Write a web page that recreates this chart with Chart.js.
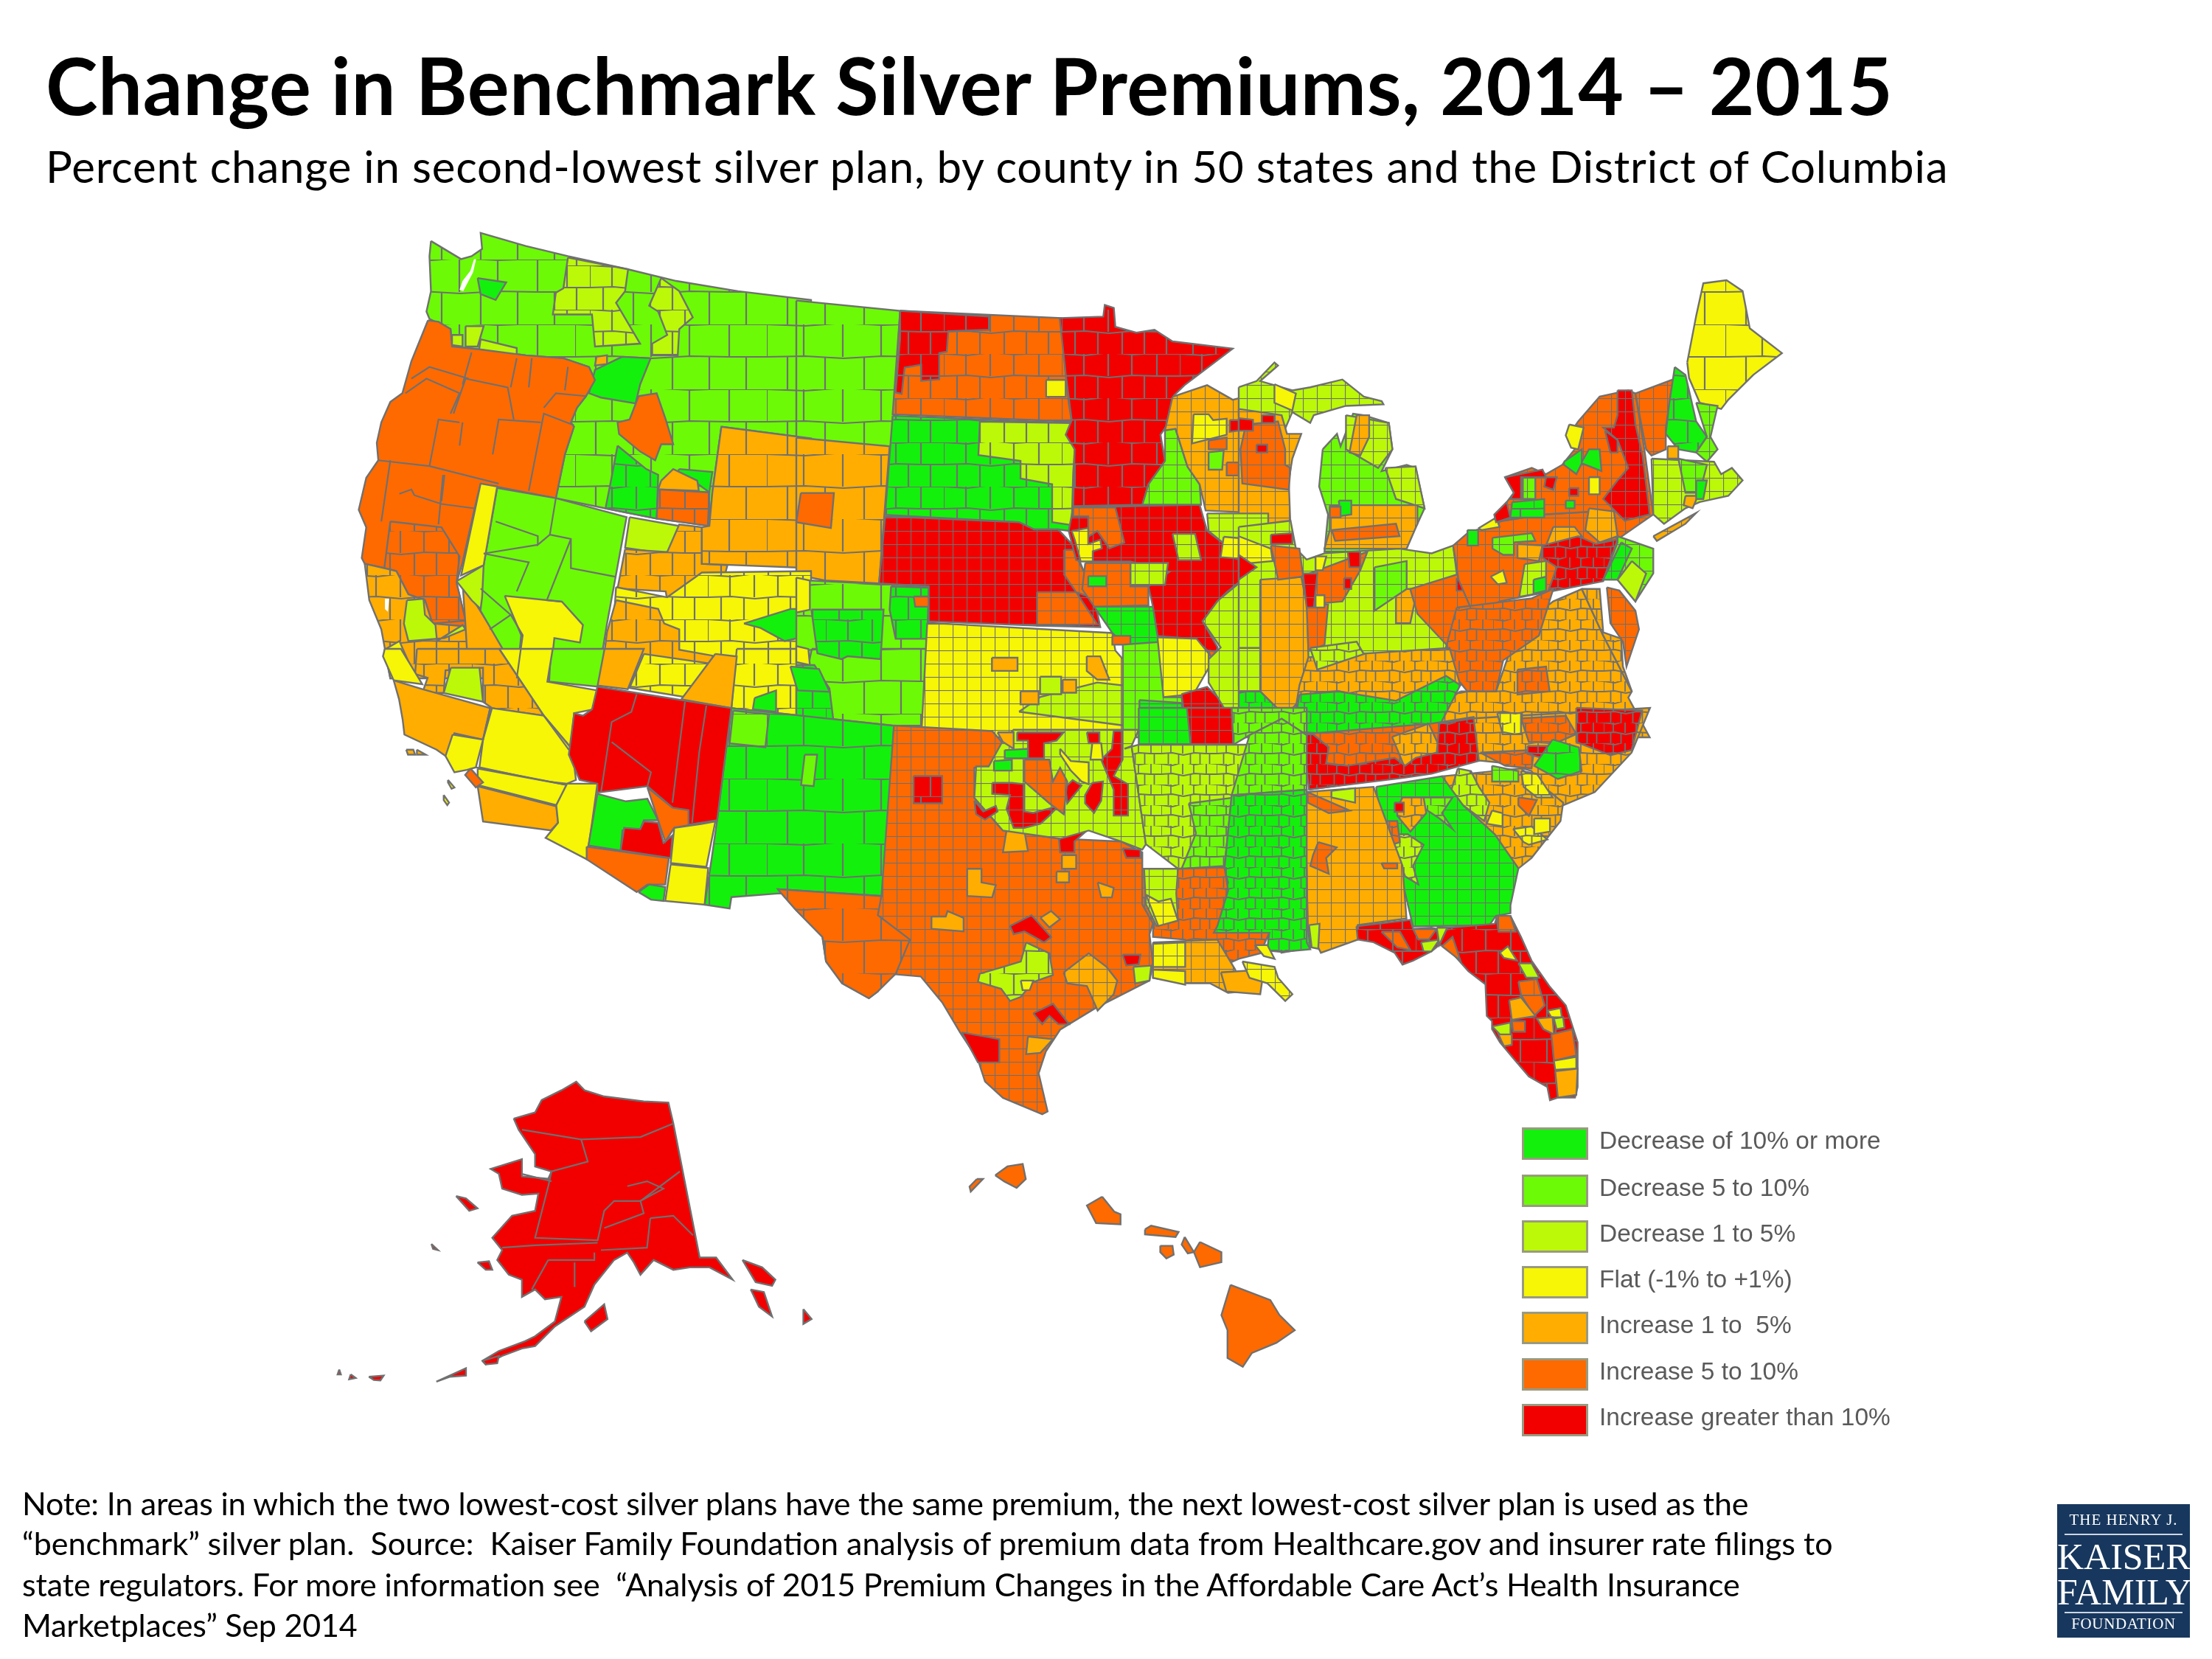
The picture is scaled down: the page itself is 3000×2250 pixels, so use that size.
<!DOCTYPE html>
<html><head><meta charset="utf-8">
<script src="https://cdn.jsdelivr.net/npm/chart.js@4"></script>
<style>
html,body{margin:0;padding:0;background:#fff;width:3000px;height:2250px;overflow:hidden}
#wrap{position:relative;width:3000px;height:2250px}
canvas{position:absolute;left:0;top:0;filter:blur(.7px)}
.t{position:absolute;white-space:pre;color:#000;font-family:Lato,sans-serif}
#title{left:62px;top:51px;font-size:106.5px;font-weight:700;letter-spacing:.6px}
#sub{left:62px;top:189px;font-size:60px;letter-spacing:.78px}
.note{left:30px;font-size:43px;letter-spacing:-.2px}
.lg{position:absolute;left:2064px;width:90px;height:44px;box-sizing:border-box;border:3px solid #9a9a80}
.lt{position:absolute;left:2169px;font-family:"Liberation Sans",sans-serif;font-size:33.5px;color:#5a5a5a;white-space:pre}
#logo{position:absolute;left:2790px;top:2040px;width:180px;height:181px;background:#17375e;color:#fff;font-family:"Liberation Serif",serif;text-align:center}
#logo div{position:absolute;left:0;right:0;white-space:pre}
</style></head><body><div id="wrap"><canvas id="c" width="3000" height="2250"></canvas>
<div id="title" class="t">Change in Benchmark Silver Premiums, 2014 – 2015</div>
<div id="sub" class="t">Percent change in second-lowest silver plan, by county in 50 states and the District of Columbia</div>
<div class="t note" style="top:2013px">Note: In areas in which the two lowest-cost silver plans have the same premium, the next lowest-cost silver plan is used as the</div>
<div class="t note" style="top:2067px;letter-spacing:0">“benchmark” silver plan.  Source:  Kaiser Family Foundation analysis of premium data from Healthcare.gov and insurer rate filings to</div>
<div class="t note" style="top:2123px;letter-spacing:-.13px">state regulators. For more information see  “Analysis of 2015 Premium Changes in the Affordable Care Act’s Health Insurance</div>
<div class="t note" style="top:2178px">Marketplaces” Sep 2014</div>
<div id="logo">
<div style="top:9px;font-size:21px;letter-spacing:1px">THE HENRY J.</div>
<div style="top:40px;height:2px;left:10px;right:10px;background:#cdd6e2"></div>
<div style="top:44px;font-size:50px;line-height:54px">KAISER</div>
<div style="top:92px;font-size:50px;line-height:54px">FAMILY</div>
<div style="top:146px;height:2px;left:10px;right:10px;background:#cdd6e2"></div>
<div style="top:150px;font-size:21px;letter-spacing:.6px">FOUNDATION</div>
</div>
</div>
<script>
const legendLabels=["Decrease of 10% or more","Decrease 5 to 10%","Decrease 1 to 5%","Flat (-1% to +1%)","Increase 1 to  5%","Increase 5 to 10%","Increase greater than 10%"];
const legendKeys=["G10","G5","G1","Y","I1","I5","R"];
const legendColors=["#13f00c","#6cfa06","#bbf908","#f6f606","#ffad00","#ff6a00","#f20000"];
const legendRowsY=[1551,1615,1677,1739,1801,1864,1926];

// Map outlines, in sheets of map units: [sheet, change class, county grain, outline]
const west=[
["A","G5","L",[305,68,300,120,305,240,290,310,300,335,370,370,375,430,470,440,620,460,745,470,830,500,850,545,820,600,790,640,770,690,780,705,750,800,720,950,885,985,1055,1020,1230,1045,1240,930,1270,705,1568,745,1568,270,1325,240,1120,205,960,165,760,120,620,85,470,40,475,95,440,120,405,130]],
["A","W","",[400,235,412,240,430,205,445,175,455,130,448,130,436,170,410,205]],
["B","G5","L",[0,70,345,105,325,460,315,570,230,565,0,540]],
["A","G1","M",[760,125,960,165,950,240,920,280,1000,420,850,430,840,320,710,320,720,245,745,230]],
["A","G1","M",[1070,195,1130,240,1175,330,1130,370,1125,460,1040,460,1040,420,1090,390,1060,310,1030,290]],
["A","G1","",[420,360,480,360,460,430,420,430]],
["A","G1","",[375,390,410,390,410,430,375,425]],
["A","G1","",[470,405,590,435,590,460,465,440]],
["A","I1","",[855,465,890,460,890,490,850,495]],
["A","G10","",[460,195,555,210,520,270,470,250]],
["A","G10","",[940,465,1035,470,1000,560,985,625,870,605,830,590,850,510]],
["A","I5","",[995,600,1055,590,1085,680,1110,765,1070,765,1050,820,1000,790,930,730,925,690,965,680]],
["A","G10","M",[925,770,1020,850,1060,870,1055,1020,885,985,905,880]],
["A","G10","",[1130,850,1240,860,1230,930,1190,900,1120,870]],
["A","I1","",[1070,890,1110,850,1190,890,1195,925,1060,920]],
["A","I5","M",[1060,920,1230,930,1225,1045,1055,1020]],
["A","I5","",[295,340,330,345,370,370,375,430,470,440,620,460,745,470,830,500,850,545,820,600,790,640,770,690,780,705,750,800,720,950,470,900,450,985,410,1170,390,1240,420,1370,420,1390,310,1380,285,1300,230,1280,190,1200,150,1190,85,1175,75,1155,90,1050,65,990,90,880,130,820,125,760,140,690,170,620,210,590,240,480]],
["A","I5","M",[170,1030,340,1050,400,1150,390,1240,420,1370,310,1380,285,1300,230,1280,190,1200,150,1190]],
["A","I1","M",[85,1175,150,1190,190,1200,230,1280,285,1300,310,1380,420,1390,440,1568,170,1568,140,1400,100,1300]],
["A","W","",[152,1295,166,1295,162,1340,152,1330]],
["A","G1","",[225,1300,280,1295,285,1350,320,1385,325,1440,410,1385,420,1400,350,1430,230,1440,215,1380]],
["A","Y","",[150,1470,200,1440,255,1568,170,1568]],
["A","I1","",[410,1240,610,1568,430,1568,420,1390]],
["A","G5","",[525,915,720,950,955,1015,890,1380,860,1568,700,1568,600,1568,410,1230,480,1180]],
["A","Y","",[470,900,525,910,480,1180,405,1215]],
["A","G1","",[390,1235,480,1180,475,1290,470,1330,440,1300]],
["A","Y","",[550,1285,740,1305,810,1385,800,1445,715,1430,700,1568,590,1568,605,1420]],
["A","G1","",[965,1015,1130,1045,1135,1105,1080,1140,950,1120]],
["A","I1","M",[950,1125,1090,1135,1130,1040,1205,1050,1205,1175,1290,1180,1260,1300,1190,1300,1090,1300,1085,1270,925,1260]],
["A","I1","L",[1270,705,1568,745,1568,1190,1205,1175,1205,1050,1230,1045,1240,930]],
["B","I1","L",[0,540,310,570,275,1040,95,1030,0,1010]],
["B","I5","",[15,730,125,730,115,850,0,830]],
["A","Y","M",[920,1255,1090,1290,1205,1205,1568,1200,1568,1568,900,1568]],
["A","G10","",[1345,1380,1500,1330,1568,1330,1568,1420,1480,1440,1400,1395]],
["B","Y","",[0,1020,45,1030,105,1095,60,1100,40,1140,0,1140]],
["A","I1","M",[920,1300,1060,1330,1080,1380,1130,1400,1130,1470,1240,1490,1250,1568,870,1568,890,1410]],
["D","Y","M",[1030,0,1240,0,1200,270,1015,235]],
["D","I1","",[650,0,770,0,725,160,640,145]],
["D","Y","M",[770,20,965,60,880,190,730,155]],
["D","I1","",[970,20,1030,30,1015,235,875,200]],
["D","G5","",[510,0,660,0,640,150,505,130]],
["D","Y","",[365,0,515,0,500,130,640,165,630,240,575,255,565,390,490,265]],
["D","I1","M",[135,0,365,0,490,265,345,235,320,210,320,75,215,85,210,175,150,175,165,115,130,100]],
["D","G1","",[230,75,310,75,320,210,210,175]],
["D","Y","",[45,0,90,0,150,140,70,125,40,30]],
["D","I1","",[70,125,150,160,340,235,320,360,240,335,235,420,215,425,190,400,100,340,95,280,85,200]],
["D","Y","",[345,235,490,265,570,400,580,520,555,535,490,525,310,470,320,360]],
["D","Y","",[305,475,555,540,525,620,305,540]],
["D","Y","",[235,340,320,360,300,470,275,480,240,490,215,425]],
["D","I5","",[285,475,320,530,300,550,270,500]],
["D","I1","",[305,545,525,625,530,690,510,720,320,685]],
["D","Y","",[555,535,640,535,625,690,610,835,495,750,530,690,525,620]],
["D","I1","",[105,400,125,400,130,420,110,420]],
["D","I1","",[135,400,160,420,135,420]],
["D","Y","",[222,520,240,550,232,555,222,530]],
["D","Y","",[210,580,225,610,220,620,210,600]],
["B","G5","L",[45,1030,440,1050,420,1568,0,1568,0,1140,45,1130]],
["D","G5","L",[1240,0,1568,0,1568,305,1470,305,1015,235,1200,270]],
["B","G10","M",[315,1050,440,1055,435,1230,330,1230,310,1130]],
["B","G10","M",[50,1130,290,1130,280,1300,170,1290,150,1300,70,1280]],
["B","G10","M",[0,1320,60,1320,110,1400,130,1568,0,1568]],
["B","I5","",[390,1085,440,1085,440,1120,395,1120]],
["B","Y","",[0,1255,40,1265,45,1320,0,1310]],
["D","G10","",[1180,70,1260,80,1290,170,1200,165]],
["D","G10","",[1080,195,1140,165,1140,250,1075,240]],
["D","G10","L",[1015,235,1470,305,1440,995,1150,970,1015,985,1010,1030,940,1015,960,830,975,680,1000,400]],
["D","G5","L",[1020,245,1120,260,1110,390,1010,375]],
["D","G5","",[1220,420,1255,420,1245,545,1210,540]],
["D","R","",[640,150,1015,235,1000,400,975,680,905,695,855,710,850,630,780,545,640,570,640,535,590,520,560,420,575,255,600,265,625,240]],
["D","G10","",[640,575,720,605,780,595,810,680,770,680,760,715,710,720,705,800,615,780]],
["D","R","",[770,685,810,690,825,770,850,740,845,830,705,800,715,710,760,715]],
["D","I5","",[780,550,850,630,895,640,895,700,855,710,830,765,810,680]],
["D","Y","",[855,710,930,695,970,685,945,865,845,850]],
["D","Y","",[845,855,950,870,940,1015,830,1000]],
["D","I5","",[610,785,840,830,830,935,780,935,750,965,610,835]],
["D","G10","",[755,965,785,935,830,945,825,1000,790,995]]
];
const countyLines=[
["A",[130,820,300,840,530,900]],["A",[510,800,530,680,670,690]],["A",[630,925,680,660,780,700]],["A",[300,840,330,680,400,690]],["A",[400,770,410,690]],["A",[380,660,420,540,560,570,580,680]],["A",[220,590,290,540,400,590,370,660]],["A",[680,640,720,590,820,600]],["A",[570,570,590,470]],["A",[240,540,300,500,430,540]],["A",[410,560,440,450]],["A",[630,570,640,470]],["A",[750,580,760,500]],["A",[350,870,340,960]],["A",[170,820,140,1030]],["A",[345,870,330,1040]],["A",[200,935,240,920,250,940,340,970,450,985]],
["A",[720,950,700,1075,770,1090,770,1190,920,1220]],["A",[520,1030,660,1080,660,1110,700,1075]],["A",[480,1140,630,1170,590,1270]],["A",[770,1090,690,1300,740,1305]],["A",[480,1140,660,1110]],["A",[470,1260,570,1350,500,1400]],["A",[570,1350,610,1420,590,1568]],
["D",[750,180,735,250,680,290,650,570]],["D",[885,210,850,610]],["D",[945,225,925,410,905,690]],["D",[680,370,790,490,780,545]],["D",[340,235,320,360]],["D",[490,265,560,400]],["D",[300,470,555,540]],
["G",[600,240,780,280,960,270,1060,215]],["G",[780,280,800,370,690,410,680,470,640,680,830,690,850,570,880,530,960,530,1080,410]],["G",[960,530,970,580,850,640]],["G",[990,600,980,720,840,730]],["G",[990,600,1060,590,1120,670]],["G",[540,720,640,710,830,700]],["G",[680,770,820,770,820,740]],["G",[760,780,760,880]],["G",[680,770,630,890]],["G",[600,420,690,450]],["G",[920,470,980,450,1030,480,960,530]]
];
const plains=[
["B","I5","M",[345,105,880,130,895,320,905,420,915,485,320,460]],
["B","R","M",[345,105,640,125,640,170,505,175,500,245,475,250,475,340,415,345,415,290,360,300,350,390,330,385,345,200]],
["B","Y","",[830,342,895,342,895,400,830,400]],
["B","G10","M",[320,465,915,490,905,530,925,580,920,660,920,840,905,860,870,855,790,855,740,830,295,805]],
["B","G1","M",[610,485,915,490,905,530,925,580,920,660,915,840,850,830,850,700,745,680,745,620,605,600]],
["B","R","S",[295,810,740,830,790,855,870,855,920,910,960,1010,990,1090,1010,1190,800,1185,440,1170,440,1050,275,1040]],
["B","I5","S",[800,1070,930,1070,1000,1180,800,1185]],
["B","I5","S",[890,925,920,925,960,1010,985,1090,930,1070,890,1010]],
["B","Y","S",[435,1175,1050,1210,1060,1270,1085,1300,1085,1568,415,1568]],
["B","G1","S",[740,1480,1085,1527,1085,1390,1000,1380,810,1430]],
["B","I1","",[650,1295,735,1295,735,1340,650,1340]],
["B","I1","",[745,1410,805,1410,805,1455,745,1455]],
["B","I1","",[885,1370,930,1370,930,1415,885,1415]],
["B","I1","",[965,1290,1010,1290,1040,1370,1000,1370,965,1340]],
["B","G1","",[810,1360,880,1360,880,1420,810,1420]],
["B","R","M",[875,130,1020,125,1025,85,1055,95,1060,160,1130,180,1190,170,1250,210,1450,235,1290,360,1255,395,1250,470,1210,530,1225,620,1170,700,1150,770,920,775,925,580,895,530,915,480,895,320]],
["B","R","S",[920,780,1340,770,1365,860,1440,920,1535,985,1490,1020,1430,1070,1400,1100,1350,1170,1400,1260,1390,1290,1320,1230,1200,1220,1185,1120,1170,1050,1240,1000,1110,965,990,965,930,960,905,860]],
["B","I5","S",[920,780,1060,780,1090,900,1040,920,1000,860,970,880,970,810,920,810]],
["B","Y","S",[915,860,970,850,970,905,1010,890,1015,920,985,930,985,965,945,965,925,890]],
["B","G1","S",[1250,870,1325,870,1345,960,1270,960]],
["B","G1","S",[1110,970,1235,970,1225,1045,1110,1045]],
["B","I5","S",[960,970,1110,970,1110,1050,1170,1050,1170,1115,990,1120,950,1060]],
["B","G10","",[970,1015,1030,1015,1030,1050,970,1050]],
["B","G10","S",[990,1120,1185,1120,1200,1220,1220,1250,1120,1280,1050,1210]],
["B","I5","",[1050,1220,1110,1220,1110,1250,1050,1250]],
["B","G5","S",[1085,1250,1220,1240,1220,1430,1280,1430,1300,1568,1085,1568]],
["B","G10","S",[1140,1440,1280,1450,1300,1568,1140,1568]],
["B","Y","S",[1200,1225,1330,1230,1370,1280,1370,1330,1320,1420,1220,1430]],
["B","R","S",[1280,1420,1365,1395,1440,1470,1440,1568,1300,1568]],
["B","I1","S",[1370,1300,1470,1310,1490,1420,1420,1450,1370,1380]],
["B","I5","",[1370,1270,1420,1280,1420,1310,1380,1305]],
["B","G5","S",[1225,515,1260,510,1300,640,1340,700,1345,770,1150,770,1170,700,1225,620]]
];
const midwest=[
["B","I1","S",[1250,400,1365,360,1450,410,1568,380,1568,800,1360,790,1340,700,1300,640,1260,510,1225,515]],
["B","Y","S",[1320,460,1370,460,1385,480,1430,475,1430,530,1315,560]],
["B","G5","",[1370,590,1420,585,1415,650,1370,650]],
["B","R","",[1440,480,1510,480,1510,510,1440,520]],
["B","I5","",[1430,625,1470,625,1470,670,1430,670]],
["B","I5","",[1370,550,1430,540,1430,580,1370,580]],
["C","G1","S",[0,440,50,420,100,360,110,370,60,420,150,450,200,440,290,415,350,470,400,485,405,495,300,500,210,530,200,555,150,520,120,600,90,530,0,530]],
["C","Y","",[100,430,160,460,150,515,100,490]],
["C","I1","S",[0,510,120,530,135,590,175,590,150,670,140,740,145,900,0,900]],
["C","I5","S",[20,560,110,550,130,640,130,690,145,700,140,770,10,750,5,640]],
["C","R","",[0,540,40,545,40,580,0,580]],
["C","R","",[65,530,100,530,100,555,65,555]],
["C","R","",[50,625,80,625,80,650,50,650]],
["C","G5","S",[235,640,275,590,285,630,320,525,350,530,420,555,430,640,400,710,470,690,495,700,520,830,500,880,450,970,240,970,250,850,225,760]],
["C","G1","S",[300,530,420,555,430,640,390,700,300,640]],
["C","I1","S",[330,530,365,530,365,600,340,660,310,650]],
["C","G1","S",[410,700,495,695,520,830,440,800]],
["C","I1","S",[255,820,500,820,500,880,470,960,240,960,255,900]],
["C","G10","",[280,805,315,805,315,850,285,855]],
["C","I5","",[255,825,285,825,285,860,255,860]],
["C","I5","S",[260,900,440,880,450,920,270,935]],
["B","G1","S",[1365,800,1568,800,1568,1568,1440,1500,1370,1380,1370,1300,1410,1260,1350,1170,1400,1100,1535,985,1450,950,1440,920,1370,860]],
["B","Y","S",[1420,880,1530,890,1535,960,1410,950]],
["C","G1","S",[0,890,145,870,160,960,190,995,240,975,450,960,540,975,600,950,620,1130,590,1280,500,1310,200,1400,0,1400]],
["C","G1","S",[0,1280,70,1280,70,1420,0,1420]],
["C","I1","S",[60,1060,190,1050,195,1310,170,1450,130,1500,60,1420]],
["C","G10","X",[0,1420,60,1420,130,1500,150,1540,130,1568,0,1568]],
["C","I5","S",[90,950,170,960,180,1050,110,1060]],
["C","R","",[90,915,150,910,150,945,90,945]],
["C","Y","S",[0,920,90,960,95,1000,0,1010]],
["C","R","",[0,980,50,1020,0,1060]],
["C","I5","S",[175,1050,360,970,340,1030,290,1130,190,1140]],
["C","I5","S",[190,1140,250,1140,240,1270,195,1290]],
["C","R","S",[180,1040,220,1040,210,1150,190,1150]],
["C","R","",[305,970,340,970,340,1020,310,1020]],
["C","R","",[295,1055,315,1055,315,1090,295,1090]],
["C","Y","",[215,1110,240,1110,240,1150,215,1150]],
["C","Y","",[215,985,245,985,235,1030,215,1030]],
["C","I1","S",[440,1090,500,1090,480,1200,440,1200]],
["C","G5","S",[380,1020,470,1000,470,1090,380,1160]],
["C","I5","S",[480,1090,620,1040,660,1180,640,1200,590,1280,500,1170]],
["C","R","",[610,1055,635,1055,635,1095,610,1095]],
["C","R","",[640,1035,660,1035,660,1065,640,1065]]
];
const northeast=[
["C","I5","S",[640,910,740,870,850,850,1000,840,1060,900,1060,940,1020,1060,860,1100,730,1130,660,1180,615,1060,600,950]],
["C","G10","",[640,900,670,900,670,950,640,950]],
["C","Y","",[670,895,720,860,730,890,680,900]],
["C","G5","S",[710,925,820,910,830,935,770,940,770,980,740,980,710,960]],
["C","I1","S",[780,945,850,950,840,1000,780,990]],
["C","I1","S",[880,890,940,890,960,920,860,950]],
["C","R","X",[850,950,950,920,1000,945,1060,930,1030,1030,1020,1065,865,1100,890,1020,850,990]],
["C","G1","S",[800,1010,860,1000,860,1100,785,1115]],
["C","G10","",[825,1060,860,1050,860,1095,825,1105]],
["C","Y","",[705,1050,740,1030,750,1070,725,1075]],
["C","I5","S",[715,865,750,810,770,780,745,730,820,700,860,720,905,690,940,640,920,600,950,550,1010,470,1090,450,1110,460,1135,640,1160,850,1060,930,1000,840,850,850,740,870]],
["C","I1","S",[980,830,1050,840,1060,920,1010,940,970,900]],
["C","R","",[745,730,850,705,860,730,790,730,790,800,760,800,770,780]],
["C","R","",[750,810,760,860,720,875,715,850]],
["C","R","",[860,730,890,730,880,770,855,760]],
["C","G5","S",[795,730,830,730,830,800,795,800]],
["C","G10","M",[765,810,855,800,855,860,760,860]],
["C","R","",[925,765,950,765,950,790,925,790]],
["C","G10","",[915,805,940,805,940,830,915,830]],
["C","R","S",[1060,450,1100,450,1110,560,1130,660,1150,850,1080,870,1020,800,1060,740,1090,700,1060,610,1020,570,1050,570,1060,530]],
["C","R","",[1025,580,1060,610,1060,650,1040,650]],
["C","Y","",[980,730,1010,730,1010,785,980,785]],
["C","Y","",[925,560,965,570,950,640,930,635,915,595]],
["C","G10","",[910,680,960,640,960,680,980,640,1010,640,1015,710,960,685,945,720,910,690]],
["C","I5","S",[1110,460,1215,415,1195,570,1195,640,1155,660,1140,640]],
["C","G10","M",[1220,375,1250,400,1280,550,1310,600,1280,650,1230,640,1195,590,1205,490]],
["C","Y","L",[1255,360,1280,210,1300,105,1365,95,1410,130,1430,250,1520,330,1440,400,1370,480,1350,510,1290,490,1260,410]],
["C","G5","S",[1280,490,1340,500,1320,600,1340,640,1310,680,1280,650,1310,600]],
["C","G1","S",[1155,670,1330,680,1350,720,1380,700,1410,740,1370,790,1290,810,1250,830,1190,880,1160,850]],
["C","G5","S",[1230,670,1310,690,1290,780,1250,780]],
["C","I1","",[1250,790,1285,790,1270,830,1245,820]],
["C","G10","",[1280,740,1310,740,1300,800,1280,800]],
["C","I1","",[1200,630,1230,630,1230,670,1200,670]],
["C","I1","S",[1160,920,1280,845,1250,880,1170,935]],
["C","G5","S",[1060,920,1160,960,1160,1040,1110,1130,1060,1060,1020,1060,1060,940]],
["C","G10","S",[1070,940,1100,960,1060,1060,1020,1060]],
["C","G1","",[1100,1000,1140,1040,1110,1130,1060,1060]],
["C","I5","S",[1030,1085,1065,1095,1110,1160,1120,1220,1085,1340,1075,1260,1040,1200]]
];
const south=[
["C","I1","X",[620,1420,720,1420,780,1220,880,1130,960,1090,1020,1240,1100,1420,1090,1440,1150,1568,580,1568,520,1500]],
["C","I1","X",[960,1090,1010,1090,1020,1230,1070,1250,1075,1340,1100,1420,1020,1240]],
["C","I5","X",[610,1150,820,1120,880,1090,840,1240,740,1320,720,1420,640,1420,570,1320]],
["C","I5","X",[780,1350,860,1340,870,1420,780,1430]],
["C","I1","X",[195,1310,590,1280,620,1400,520,1500,150,1540,170,1400]],
["C","G10","X",[170,1430,280,1420,440,1450,580,1370,620,1400,560,1535,150,1568]],
["C","G1","X",[200,1280,330,1260,350,1300,220,1350]],
["F","I5","X",[130,100,620,60,780,35,800,190,520,260,160,310]],
["F","I1","X",[470,110,610,60,660,170,560,230,520,230]],
["F","R","X",[130,100,170,100,230,150,220,210,300,220,480,190,520,220,560,190,640,170,650,60,780,40,805,200,620,250,520,265,155,310]],
["F","I1","X",[780,40,1450,0,1380,170,1240,320,1120,370,1060,340,1000,240,900,210,800,200]],
["F","I5","X",[960,40,1130,30,1170,100,1100,130,990,130]],
["F","Y","X",[870,20,960,20,960,100,890,100]],
["F","I5","X",[805,170,1010,160,1000,230,900,220]],
["F","R","X",[1170,0,1420,10,1380,160,1300,180,1170,130]],
["F","R","X",[985,145,1060,145,1040,190,985,175]],
["F","G10","M",[1080,120,1180,150,1190,240,1100,270,1010,220]],
["F","I1","X",[660,260,960,230,1120,360,1110,430,1000,570,950,610,860,480,740,370,680,310]],
["F","Y","X",[960,240,1020,250,1080,340,1020,340,970,300]],
["F","G1","X",[720,230,770,240,800,300,840,360,820,430,740,370,690,330]],
["F","G5","S",[850,220,950,240,950,280,850,280]],
["F","Y","",[850,390,890,400,890,450,830,440]],
["F","Y","X",[930,460,1000,450,1060,500,990,520,970,510]],
["F","Y","",[1010,420,1070,420,1070,470,1010,480]],
["F","I5","",[950,340,1020,350,990,410,950,370]],
["F","G10","S",[410,300,660,260,740,370,860,480,950,610,920,750,920,780,865,790,840,825,550,830,505,640,470,520,420,400]],
["F","G1","X",[480,480,530,480,590,520,550,600,570,670,520,640,475,520]],
["F","G5","X",[590,340,700,340,660,400,700,460,650,420,590,380]],
["F","I1","X",[510,340,590,340,600,400,540,470,490,410,490,380]],
["F","R","",[480,360,515,360,515,395,480,395]],
["F","I5","X",[450,430,490,430,500,510,470,520]],
["F","I1","S",[140,320,400,300,510,600,525,800,340,825,340,880,200,930,150,830]],
["F","I5","S",[150,320,310,390,230,400,150,360]],
["F","G1","",[240,315,330,305,330,360,240,340]],
["F","I5","S",[190,510,260,530,220,570,230,630,160,600,170,560]],
["F","I5","",[430,590,490,590,490,610,440,610]],
["F","G1","",[155,825,195,820,190,915,165,910]],
["F","G10","S",[0,320,140,320,150,830,160,910,50,930,35,900,0,910]],
["F","R","M",[335,830,540,805,550,840,620,835,640,840,650,900,620,925,550,960,510,975,480,930,400,890,340,880]],
["F","I5","M",[430,850,500,850,540,920,490,910]],
["F","I5","",[550,840,640,840,610,880,570,880]],
["F","G1","",[580,890,650,880,620,925,590,925]],
["F","G1","",[640,835,680,835,650,900]],
["F","R","M",[680,835,860,820,870,790,920,790,960,870,1000,960,1070,1060,1130,1130,1175,1270,1175,1440,1165,1480,1100,1480,1070,1490,1060,1440,990,1400,930,1330,880,1270,850,1220,850,1190,830,1170,825,1050,760,1000,680,910,650,900]],
["F","I5","",[660,905,700,870,730,960]],
["F","I5","M",[865,790,920,790,940,850,875,850]],
["F","Y","",[880,930,910,905,945,960,895,950]],
["F","G1","",[950,970,1000,970,1030,1025,980,1025]],
["F","I5","M",[950,1040,1020,1030,1050,1130,1010,1170,960,1090]],
["F","I1","",[915,1110,960,1100,1015,1170,925,1185]],
["F","Y","",[1060,1150,1110,1140,1115,1175,1075,1175]],
["F","G1","",[1085,1180,1120,1175,1125,1215,1095,1220]],
["F","I1","",[1020,1180,1080,1175,1085,1240,1045,1220]],
["F","I5","",[1075,1240,1155,1220,1170,1320,1085,1340]],
["F","Y","",[1085,1340,1170,1325,1170,1370,1090,1375]],
["F","I1","",[1090,1380,1175,1370,1170,1470,1100,1480]],
["F","I1","",[870,1230,925,1240,925,1280,895,1285]],
["F","G1","",[850,1210,920,1195,920,1240,880,1240]],
["F","I5","",[925,1190,975,1190,975,1230,930,1230]],
["E","I5","S",[335,65,610,85,640,130,600,215,560,220,560,330,620,420,640,450,800,480,970,490,1030,530,1030,720,1060,790,1050,830,1060,940,1050,1000,960,1060,900,1100,800,1180,760,1260,740,1340,765,1480,750,1490,640,1430,590,1370,570,1290,520,1190,470,1080,410,985,320,975,290,1040,265,1065,190,1010,145,930,135,840,60,740,10,665,300,690]],
["E","I5","L",[10,665,300,690,290,760,380,850,340,975,290,1040,265,1065,190,1010,145,930,135,840,60,740]],
["E","R","M",[390,250,470,250,470,350,390,350]],
["E","I1","",[650,450,700,450,710,525,640,530]],
["E","I1","",[540,590,580,590,580,640,620,650,610,695,540,690]],
["E","I1","",[790,600,825,600,825,640,790,640]],
["E","I1","",[805,540,845,540,845,590,805,590]],
["E","I1","",[905,640,950,660,945,695,915,695]],
["E","I1","",[440,765,480,765,485,745,530,770,530,820,440,810]],
["E","I1","",[745,770,775,745,800,775,770,805]],
["E","R","",[660,800,720,760,775,840,755,860,700,820,670,830]],
["E","R","",[975,905,1025,905,1020,940,985,945]],
["E","R","",[725,1120,780,1085,825,1160,795,1160,770,1130,750,1160]],
["E","R","",[525,1190,630,1215,630,1300,570,1300]],
["E","R","",[975,515,1025,520,1025,550,985,550]],
["E","R","",[795,450,875,450,840,490,840,530,800,530]],
["E","G1","M",[705,860,770,900,780,980,725,1005,690,1060,660,1075,635,1030,570,1005,575,975,640,950,690,930]],
["E","Y","",[690,1000,725,1000,715,1035,695,1035]],
["E","I1","S",[810,970,880,900,930,950,960,1000,950,1050,905,1110,875,1020,820,1010]],
["E","I1","",[710,1205,780,1215,745,1265,705,1270]],
["E","G1","",[1005,950,1055,945,1050,1000,1010,1010]],
["E","G1","S",[640,120,670,80,1020,80,1000,140,1040,500,1030,520,970,490,880,450,800,480,640,450,620,420,560,330,565,215,600,215]],
["E","R","",[680,90,810,90,790,120,755,130,755,185,710,185,710,120,680,120]],
["E","R","",[875,90,910,90,910,130,880,130]],
["E","R","S",[950,85,975,85,975,190,950,250,990,280,990,395,950,395,950,300,915,190,945,150]],
["E","R","S",[610,275,665,275,700,280,700,380,725,385,795,360,770,395,745,425,700,440,670,440,650,370,660,320,610,315]],
["E","R","",[560,340,585,380,620,360,625,380,590,410,565,390]],
["E","R","",[815,290,835,265,860,285,820,350]],
["E","R","",[890,275,920,270,915,340,895,385,870,350,870,320]],
["E","Y","",[800,150,830,195,880,200,880,280,860,270,830,230,800,170]],
["E","Y","",[890,130,915,130,920,190,885,190]],
["E","I1","",[625,90,670,90,670,150,640,125]],
["E","G10","",[645,155,710,150,710,185,645,185]],
["E","G10","",[615,195,665,190,665,230,615,230]],
["E","I5","S",[700,190,770,190,780,270,800,220,820,270,810,390,770,350,700,270]],
["E","G10","S",[1020,0,1160,0,1170,140,1020,140]],
["E","R","S",[1155,0,1280,0,1285,135,1165,135]],
["E","G5","X",[1280,0,1490,0,1490,100,1420,40,1330,100,1285,135]],
["E","G1","X",[980,150,1020,135,1320,135,1350,170,1280,400,1260,580,1130,590,1040,500,1000,140]],
["E","Y","",[1330,280,1370,210,1400,310,1330,310]],
["E","G5","X",[1160,350,1280,330,1260,580,1140,590,1180,460]],
["E","G5","X",[1330,100,1420,40,1490,100,1490,300,1280,320]],
["E","G10","X",[1280,320,1490,300,1490,860,1500,885,1420,895,1380,890,1385,825,1230,830,1270,640,1260,590]],
["E","I5","X",[1130,590,1260,585,1270,670,1240,800,1230,825,1385,825,1360,900,1300,920,1250,950,1150,850,1060,840,1060,790,1030,720,1030,590]],
["E","G1","S",[1035,590,1130,590,1125,680,1130,780,1070,800,1040,720]],
["E","Y","S",[1040,685,1075,710,1110,700,1130,780,1075,800]],
["E","I1","S",[1060,860,1240,850,1290,960,1310,1040,1270,1045,1220,1010,1150,1010,1060,990]],
["E","Y","S",[1060,865,1150,860,1150,950,1060,950]],
["E","Y","",[1060,960,1150,965,1150,1015,1060,990]],
["E","I1","",[1250,970,1370,960,1360,1050,1265,1040]],
["E","Y","S",[1310,930,1400,950,1410,990,1450,1050,1430,1075,1380,1010,1330,990]],
["E","Y","",[1345,870,1380,870,1400,920,1370,910]]
];
const islands=[
["G","R","",[575,195,640,170,660,120,720,80,765,45,790,80,850,105,970,125,1045,130,1060,215,1140,760,1190,760,1240,850,1170,800,1110,800,1060,810,1000,770,960,830,940,780,920,740,880,770,820,870,790,960,700,1040,640,1120,600,1130,540,1160,490,1195,480,1180,530,1140,610,1100,640,1080,700,1020,720,920,670,930,640,890,600,920,600,850,560,830,525,770,540,730,510,680,570,590,640,570,650,500,600,505,540,480,530,420,505,400,600,360,600,430,680,440,690,410,640,390,640,340,590,240]],
["G","R","",[400,510,430,520,465,560,440,570]],
["G","R","",[465,780,500,775,510,810,490,810]],
["G","R","",[1270,770,1330,800,1370,850,1360,875,1310,860]],
["G","R","",[1295,890,1335,900,1360,1000,1320,960]],
["G","R","",[1455,970,1480,1010,1455,1030]],
["G","R","",[790,1020,850,950,860,1010,810,1060]],
["G","R","",[480,1180,530,1160,525,1190,490,1195]],
["G","R","",[340,1265,430,1210,430,1240,380,1245]],
["G","R","",[325,705,345,730,330,725]],
["G","R","",[45,1215,50,1235,40,1235]],
["G","R","",[80,1235,95,1250,75,1255]],
["G","R","",[135,1245,180,1240,170,1260,150,1258]],
["H","I5","",[60,105,80,70,105,60,110,120,95,155,75,130]],
["H","I5","",[30,120,40,120,20,170,18,150]],
["H","I5","",[235,190,255,250,265,260,265,300,225,295,210,225]],
["H","I5","",[305,320,315,305,360,330,355,350,305,340]],
["H","I5","",[330,385,350,385,352,420,340,435,330,410]],
["H","I5","",[370,350,385,410,375,415,365,380]],
["H","I5","",[395,370,430,410,430,450,395,470,385,410]],
["H","I5","",[445,540,510,600,525,660,550,720,520,770,480,810,465,865,440,830,440,720,430,660]]
];

const sheets={A:[460,300,640,620],B:[1080,380,640,620],C:[1680,340,760,660],D:[500,880,760,536],E:[1050,960,760,580],F:[1720,960,560,560],G:[440,1452,700,523],H:[1300,1558,1300,536]};
const SHEET_SPAN=1568, LINE="#707070";
const grains={L:[52,44,1],M:[32,30,1],S:[19,18,0],X:[15,14,1]};
const wob=[0,2,-2,1,-1,2,-1,0,1,-2];
function toMap(sheet,flat){
  const [ox,oy,w,h]=sheets[sheet],out=[];
  for(let i=0;i<flat.length;i+=2)out.push({x:ox+flat[i]*w/SHEET_SPAN,y:oy+flat[i+1]*h/SHEET_SPAN});
  return out;
}
const ctxColor=Object.fromEntries(legendKeys.map((k,i)=>[k,legendColors[i]]));
ctxColor.W="#ffffff";
const patCache={};
const host=document.getElementById("c").getContext("2d");
function pattern(color,g){
  if(!g)return color;
  const id=color+g;
  if(patCache[id])return patCache[id];
  const [cw,ch,brick]=grains[g],n=brick?5:1,m=brick?2:1;
  const c=document.createElement("canvas");c.width=cw*n;c.height=ch*m;
  const x=c.getContext("2d");x.fillStyle=color;x.fillRect(0,0,c.width,c.height);
  x.strokeStyle=LINE;x.lineWidth=g==="X"?1.8:2.2;
  for(let r=0;r<m;r++){
    const y=r*ch;
    x.beginPath();x.moveTo(0,y);
    for(let i=1;i<=n;i++)x.lineTo(i*cw,y+(i===n?0:wob[(i+r*3)%10]));
    x.stroke();
    for(let i=0;i<n;i++){
      const vx=(i*cw+(r%2?cw/2:0)+wob[(i*2+r)%10]*(brick?1:0))%c.width;
      x.beginPath();x.moveTo(vx,y);x.lineTo(vx,y+ch);x.stroke();
    }
  }
  return patCache[id]=host.createPattern(c,"repeat");
}
const datasets=[];
[west,plains,midwest,northeast,south,islands].forEach(group=>group.forEach(([s,k,g,pts])=>{
  const d=toMap(s,pts);d.push(d[0]);
  const white=k==="W";
  datasets.push({data:d,showLine:true,fill:"shape",backgroundColor:pattern(ctxColor[k],g),borderColor:white?"#ffffff":LINE,borderWidth:white?0:2.4,pointRadius:0,tension:0});
}));
countyLines.forEach(([s,pts])=>datasets.push({data:toMap(s,pts),showLine:true,fill:false,borderColor:LINE,borderWidth:2.2,pointRadius:0,tension:0}));
datasets.reverse();
new Chart(document.getElementById("c"),{type:"scatter",data:{datasets},options:{
  responsive:false,animation:false,devicePixelRatio:1,
  layout:{padding:0},
  plugins:{legend:{display:false},tooltip:{enabled:false},title:{display:false}},
  scales:{x:{type:"linear",min:0,max:3000,display:false},y:{type:"linear",min:0,max:2250,reverse:true,display:false}}
}});
const wrap=document.getElementById("wrap");
legendLabels.forEach((l,i)=>{
  const b=document.createElement("div");b.className="lg";b.style.top=(legendRowsY[i]-22)+"px";b.style.background=legendColors[i];wrap.appendChild(b);
  const t=document.createElement("div");t.className="lt";t.textContent=l;t.style.top=(legendRowsY[i]-23)+"px";wrap.appendChild(t);
});
</script></body></html>
